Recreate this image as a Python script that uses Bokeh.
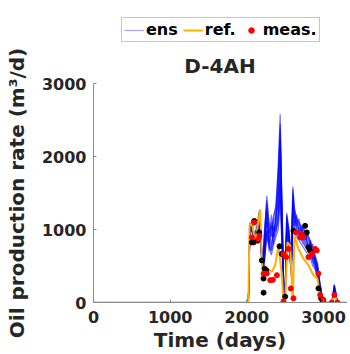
from bokeh.plotting import figure
from bokeh.models import (ColumnDataSource, Legend, LegendItem, FixedTicker, Range1d)
from bokeh.layouts import column
from bokeh.embed import file_html
from bokeh.resources import INLINE

# ---------------- data ----------------
t_ens = [0, 2000, 2020, 2040, 2070, 2100, 2130, 2160, 2190, 2210, 2230, 2260, 2290, 2320,
         2350, 2380, 2410, 2435, 2460, 2480, 2500, 2520, 2550, 2580, 2600, 2620, 2650, 2680,
         2710, 2740, 2770, 2800, 2830, 2860, 2890, 2920, 2950, 2980, 3010, 3040, 3080, 3110,
         3140, 3160, 3180, 3220, 3300]

ens_1 = [0, 0, 0, 1100, 1050, 950, 1000, 1250, 800, 600, 900, 1460, 1100, 1000, 1200, 1300, 1900, 2580, 1300, 300, 100,
         1230, 1000, 600, 1590, 1300, 1150, 1100, 1050, 1000, 950, 900, 850, 750, 650, 550, 300, 100, 0, 0, 0, 0, 250, 150, 0, 0, 0]
ens_2 = [0, 0, 0, 1050, 1000, 900, 950, 1200, 750, 550, 800, 1300, 1000, 900, 1100, 1200, 1600, 2380, 1150, 250, 80,
         1150, 950, 550, 1450, 1250, 1100, 1050, 1000, 950, 900, 850, 800, 700, 600, 500, 250, 80, 0, 0, 0, 0, 200, 120, 0, 0, 0]
ens_3 = [0, 0, 0, 1000, 980, 880, 920, 1150, 700, 500, 700, 1150, 900, 800, 1000, 1100, 1400, 2000, 1000, 200, 50,
         1050, 900, 500, 1300, 1150, 1050, 1000, 950, 900, 850, 800, 750, 650, 550, 450, 200, 60, 0, 0, 0, 0, 180, 100, 0, 0, 0]
ens_4 = [0, 0, 0, 1080, 1020, 920, 980, 1180, 680, 480, 650, 1000, 850, 750, 950, 1050, 1250, 1700, 900, 150, 30,
         1000, 850, 450, 1200, 1100, 1000, 950, 900, 850, 800, 750, 700, 600, 520, 420, 180, 50, 0, 0, 0, 0, 150, 80, 0, 0, 0]
ens_5 = [0, 0, 0, 1020, 990, 870, 900, 1100, 650, 450, 600, 950, 800, 700, 850, 950, 1100, 1500, 800, 120, 20,
         950, 800, 400, 1100, 1000, 950, 900, 850, 800, 750, 700, 650, 550, 480, 380, 150, 40, 0, 0, 0, 0, 120, 60, 0, 0, 0]
ens_6 = [0, 0, 0, 990, 960, 850, 880, 1080, 620, 420, 550, 900, 750, 650, 800, 900, 1000, 1400, 700, 100, 10,
         900, 750, 350, 1000, 950, 900, 850, 800, 750, 700, 650, 600, 500, 450, 350, 120, 30, 0, 0, 0, 0, 100, 50, 0, 0, 0]
ens_7 = [0, 0, 0, 1060, 1000, 920, 1050, 1150, 720, 520, 850, 1200, 700, 1100, 800, 1250, 1300, 2200, 1100, 200, 60,
         1100, 800, 500, 1400, 1050, 1200, 950, 1050, 850, 950, 700, 850, 600, 600, 400, 220, 70, 0, 0, 0, 0, 220, 100, 0, 0, 0]
ens_8 = [0, 0, 0, 1040, 1020, 900, 1000, 1220, 760, 580, 1000, 1350, 850, 1200, 900, 1150, 1750, 2450, 1200, 280, 90,
         1200, 900, 550, 1500, 1200, 1050, 1150, 950, 1050, 850, 950, 750, 800, 550, 500, 280, 90, 0, 0, 0, 0, 230, 130, 0, 0, 0]
ens_9 = [0, 0, 0, 1070, 1030, 930, 980, 1230, 780, 560, 950, 1400, 1050, 950, 1150, 1350, 1800, 2300, 1250, 270, 90,
         1180, 980, 580, 1550, 1280, 1120, 1080, 1020, 980, 930, 880, 820, 730, 630, 530, 280, 90, 0, 0, 0, 0, 240, 140, 0, 0, 0]
ens_10 = [0, 0, 0, 1030, 1000, 890, 940, 1170, 720, 520, 750, 1250, 950, 1050, 1000, 1150, 1500, 2100, 1050, 220, 60,
          1100, 920, 520, 1350, 1200, 1080, 1020, 980, 920, 870, 820, 780, 680, 580, 480, 230, 70, 0, 0, 0, 0, 190, 110, 0, 0, 0]
ens_11 = [0, 0, 0, 1010, 970, 860, 910, 1120, 670, 470, 680, 1100, 820, 950, 900, 1000, 1200, 1800, 950, 170, 40,
          980, 870, 470, 1250, 1120, 1020, 970, 930, 870, 820, 770, 720, 620, 530, 430, 190, 55, 0, 0, 0, 0, 160, 90, 0, 0, 0]
ens_12 = [0, 0, 0, 1000, 960, 860, 890, 1090, 640, 440, 580, 980, 780, 720, 1050, 980, 1150, 1600, 850, 140, 25,
          930, 780, 420, 1150, 1030, 970, 920, 870, 820, 770, 720, 670, 570, 490, 400, 160, 45, 0, 0, 0, 0, 130, 70, 0, 0, 0]
ensemble = [ens_1, ens_2, ens_3, ens_4, ens_5, ens_6, ens_7, ens_8, ens_9, ens_10, ens_11, ens_12]

t_ref = [0, 2020, 2035, 2066, 2109, 2174, 2196, 2218, 2261, 2326, 2370, 2413, 2457, 2478, 2500, 2530,
         2565, 2600, 2621, 2674, 2738, 2804, 2869, 2921, 2956, 2999, 3090, 3130, 3150, 3173, 3300]
ref = [0, 0, 1050, 1095, 824, 1275, 554, 374, 464, 420, 510, 780, 374, 10, 0, 824,
       780, 10, 915, 734, 600, 510, 374, 328, 58, 10, 0, 58, 100, 0, 0]

t_meas = [2066, 2096, 2165, 2152, 2218, 2261, 2305, 2340, 2392, 2478, 2513, 2543, 2478, 2574, 2608,
          2643, 2695, 2717, 2738, 2847, 2891, 2912, 2804, 2934, 2956, 2999, 3108, 3142, 3181]
meas = [892, 1095, 915, 870, 396, 396, 306, 310, 374, 666, 622, 734, 15, 193, 58,
        960, 892, 937, 892, 666, 734, 712, 622, 396, 104, 36, 0, 104, 0]

t_pts = [2096, 2088, 2066, 2140, 2161, 2196, 2231, 2253, 2218, 2218, 2426, 2457, 2500, 2608,
         2760, 2782, 2804, 2826, 2934, 2969, 2986]
pts = [1117, 824, 824, 847, 960, 577, 464, 442, 328, 135, 770, 666, 81, 982,
       1050, 960, 757, 712, 193, 58, 27]

x_ticks = [0, 1000, 2000, 3000]
y_ticks = [0, 1000, 2000, 3000]

FONT = "DejaVu Sans"
TXT = "#262626"
AX = "#8c8c8c"
ENS_COLOR = "#0000ff"
REF_COLOR = "#ffb000"

ens_sources = [ColumnDataSource(dict(t=t_ens, v=m)) for m in ensemble]
ref_src = ColumnDataSource(dict(t=t_ref, v=ref))
pts_src = ColumnDataSource(dict(t=t_pts, v=pts))
meas_src = ColumnDataSource(dict(t=t_meas, v=meas))

# ---------------- legend strip (same data, range chosen so nothing is drawn) ----------------
lf = figure(width=350, height=45, output_backend="svg", toolbar_location=None,
            x_range=Range1d(-2, -1), y_range=Range1d(-2, -1),
            x_axis_type=None, y_axis_type=None,
            min_border_left=0, min_border_right=0, min_border_top=0, min_border_bottom=0)
lf.outline_line_color = None
lf.grid.visible = False
l_ens = lf.line("t", "v", source=ens_sources[0], line_color=ENS_COLOR, line_alpha=0.35, line_width=1.2)
l_ref = lf.line("t", "v", source=ref_src, line_color=REF_COLOR, line_width=2)
l_meas = lf.scatter("t", "v", source=meas_src, marker="circle", size=5, fill_color="red", line_color="red")
legend = Legend(items=[LegendItem(label="ens", renderers=[l_ens]),
                       LegendItem(label="ref.", renderers=[l_ref]),
                       LegendItem(label="meas.", renderers=[l_meas])],
                orientation="horizontal", location=(28, 3),
                label_text_font=FONT, label_text_font_style="bold", label_text_font_size="16px",
                label_text_color="black", glyph_width=20, glyph_height=14, label_standoff=2,
                spacing=5, padding=2, margin=0, border_line_color="#8c8c8c", border_line_width=1,
                background_fill_color="white", background_fill_alpha=1)
lf.add_layout(legend, "center")

# ---------------- main plot ----------------
p = figure(width=350, height=309, output_backend="svg", toolbar_location=None,
           x_range=Range1d(0, 3300), y_range=Range1d(0, 3000),
           min_border_left=93, min_border_right=4, min_border_top=35, min_border_bottom=52,
           title="D-4AH")
p.outline_line_color = None
p.grid.visible = False
p.title.align = "center"
p.title.text_font = FONT
p.title.text_font_style = "bold"
p.title.text_font_size = "20px"
p.title.text_color = TXT
p.title.standoff = 12

for src in ens_sources:
    p.line("t", "v", source=src, line_color=ENS_COLOR, line_alpha=0.55, line_width=1.2)

p.line("t", "v", source=ref_src, line_color=REF_COLOR, line_width=2)
p.scatter("t", "v", source=pts_src, marker="circle", size=5, fill_color="black", line_color="black")
p.scatter("t", "v", source=meas_src, marker="circle", size=5, fill_color="red", line_color="red")

for ax in (p.xaxis[0], p.yaxis[0]):
    ax.axis_line_color = AX
    ax.major_tick_line_color = AX
    ax.major_tick_in = 3
    ax.major_tick_out = 0
    ax.minor_tick_line_color = None
    ax.major_label_text_font = FONT
    ax.major_label_text_font_style = "bold"
    ax.major_label_text_font_size = "16px"
    ax.major_label_text_color = TXT
    ax.axis_label_text_font = FONT
    ax.axis_label_text_font_style = "bold"
    ax.axis_label_text_font_size = "20px"
    ax.axis_label_text_color = TXT

p.xaxis.ticker = FixedTicker(ticks=x_ticks)
p.yaxis.ticker = FixedTicker(ticks=y_ticks)
p.xaxis.axis_label = "Time (days)"
p.yaxis.axis_label = "Oil production rate (m³/d)"
p.xaxis.major_label_standoff = 8
p.yaxis.major_label_standoff = 7
p.xaxis.axis_label_standoff = 2
p.yaxis.axis_label_standoff = 10

layout = column(lf, p, spacing=0)
open("out.html", "w").write(file_html(layout, INLINE))
